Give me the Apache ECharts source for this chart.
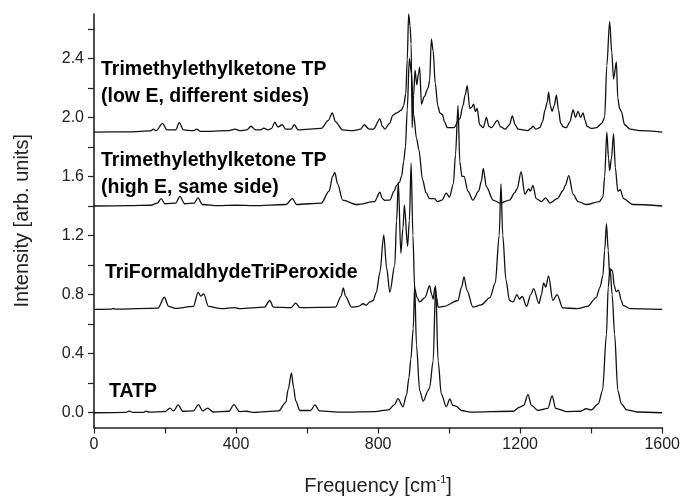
<!DOCTYPE html>
<html><head><meta charset="utf-8">
<script src="https://cdn.jsdelivr.net/npm/echarts@6/dist/echarts.min.js"></script>
<style>html,body{margin:0;padding:0;background:#fff}#c{width:683px;height:501px}</style>
</head><body><div id="c"></div>
<script>
// Tick values
var xTickLabels = [0, 400, 800, 1200, 1600];
var xTickMarks = [0, 200, 400, 600, 800, 1000, 1200, 1400, 1600];
var yTickLabels = [0.0, 0.4, 0.8, 1.2, 1.6, 2.0, 2.4];
var yTickMarks = [0.0, 0.2, 0.4, 0.6, 0.8, 1.0, 1.2, 1.4, 1.6, 1.8, 2.0, 2.2, 2.4, 2.6];

// Spectrum labels
var labelLowE = ["Trimethylethylketone TP", "(low E, different sides)"];
var labelHighE = ["Trimethylethylketone TP", "(high E, same side)"];
var labelTriForm = "TriFormaldhydeTriPeroxide";
var labelTATP = "TATP";

// Spectra: [frequency cm-1, intensity (offset included)]
var tatp = [[0,0],[90,0.002],[99,0.011],[110,0.002],[140,0.003],[146,0.011],[155,0.004],[200,0.008],[214,0.031],[224,0.012],[237,0.053],[250,0.01],[280,0.012],[294,0.055],[306,0.012],[320,0.031],[335,0.005],[380,0.01],[394,0.055],[410,0.008],[430,0.01],[450,0.003],[520,0.012],[540,0.07],[547,0.16],[556,0.27],[562,0.17],[568,0.08],[580,0.015],[610,0.015],[622,0.053],[635,0.012],[700,0.004],[790,0.008],[830,0.02],[846,0.055],[856,0.095],[870,0.04],[880,0.12],[887,0.24],[892,0.36],[899,0.57],[903,0.86],[908,0.46],[917,0.15],[927,0.078],[941,0.15],[945,0.17],[955,0.35],[962,0.86],[969,0.35],[978,0.127],[992,0.04],[1002,0.093],[1010,0.05],[1019,0.045],[1035,0.015],[1060,0.004],[1180,0.01],[1199,0.038],[1210,0.05],[1222,0.122],[1232,0.05],[1250,0.015],[1278,0.03],[1290,0.115],[1300,0.03],[1330,0.008],[1370,0.01],[1386,0.027],[1400,0.02],[1420,0.06],[1432,0.15],[1443,0.53],[1448,0.85],[1453,0.98],[1459,0.8],[1466,0.53],[1475,0.15],[1485,0.06],[1500,0.02],[1530,0.005],[1600,0]];

var triForm = [[0,0.7],[50,0.702],[54,0.706],[60,0.701],[180,0.708],[198,0.782],[210,0.72],[230,0.706],[280,0.72],[293,0.815],[301,0.79],[309,0.805],[322,0.72],[360,0.705],[395,0.712],[410,0.705],[480,0.715],[495,0.76],[505,0.715],[555,0.712],[568,0.742],[580,0.712],[680,0.715],[696,0.79],[702,0.845],[708,0.79],[725,0.715],[745,0.72],[758,0.738],[766,0.728],[777,0.75],[786,0.76],[795,0.815],[805,0.95],[816,1.204],[824,0.98],[833,0.815],[847,1.0],[852,1.3],[857,1.56],[864,1.08],[870,1.25],[874,1.405],[883,1.127],[888,1.3],[893,1.69],[898,1.2],[903,0.84],[910,0.78],[917,0.75],[932,0.78],[945,0.86],[951,0.8],[955,0.77],[960,0.85],[965,0.78],[969,0.715],[985,0.72],[1025,0.76],[1035,0.85],[1042,0.92],[1050,0.83],[1067,0.715],[1090,0.73],[1115,0.78],[1130,0.88],[1141,1.2],[1146,1.55],[1151,1.2],[1160,0.9],[1170,0.76],[1180,0.75],[1191,0.80],[1198,0.77],[1206,0.787],[1218,0.72],[1230,0.8],[1238,0.84],[1253,0.74],[1260,0.8],[1266,0.88],[1272,0.85],[1280,0.927],[1292,0.76],[1304,0.80],[1320,0.71],[1360,0.705],[1390,0.72],[1414,0.78],[1425,0.85],[1433,0.93],[1438,1.1],[1443,1.28],[1448,1.1],[1452,0.93],[1456,0.97],[1460,0.96],[1465,0.86],[1470,0.82],[1477,0.83],[1485,0.76],[1490,0.727],[1510,0.705],[1600,0.7]];

var highE = [[0,1.4],[100,1.402],[160,1.405],[178,1.42],[189,1.45],[200,1.415],[230,1.42],[242,1.465],[255,1.415],[282,1.42],[293,1.455],[305,1.41],[350,1.402],[400,1.405],[450,1.402],[540,1.41],[559,1.45],[570,1.41],[640,1.42],[662,1.5],[672,1.6],[678,1.627],[686,1.55],[700,1.44],[740,1.41],[790,1.43],[805,1.493],[812,1.45],[819,1.438],[833,1.44],[845,1.5],[852,1.54],[860,1.56],[866,1.6],[872,1.7],[877,1.8],[882,2.05],[888,2.4],[894,2.3],[900,2.02],[908,1.86],[915,1.78],[925,1.58],[935,1.49],[945,1.45],[952,1.45],[959,1.45],[967,1.43],[980,1.44],[992,1.487],[1001,1.46],[1012,1.55],[1018,1.75],[1025,2.08],[1030,1.7],[1036,1.6],[1042,1.6],[1053,1.5],[1067,1.44],[1083,1.5],[1091,1.57],[1096,1.655],[1105,1.53],[1124,1.44],[1143,1.42],[1170,1.44],[1185,1.49],[1191,1.515],[1203,1.633],[1213,1.48],[1224,1.515],[1229,1.5],[1236,1.54],[1245,1.45],[1260,1.43],[1272,1.455],[1284,1.42],[1305,1.45],[1321,1.505],[1327,1.54],[1337,1.605],[1349,1.48],[1363,1.43],[1386,1.41],[1423,1.43],[1433,1.46],[1438,1.6],[1444,1.90],[1449,1.72],[1452,1.64],[1457,1.72],[1463,1.89],[1468,1.66],[1475,1.50],[1482,1.51],[1491,1.45],[1517,1.41],[1600,1.4]];

var lowE = [[0,1.9],[100,1.902],[160,1.908],[167,1.92],[175,1.91],[193,1.96],[205,1.915],[230,1.915],[240,1.965],[252,1.915],[280,1.91],[289,1.92],[300,1.905],[380,1.91],[397,1.92],[410,1.91],[430,1.915],[442,1.94],[455,1.915],[470,1.915],[478,1.927],[490,1.915],[500,1.925],[509,1.967],[518,1.935],[530,1.95],[540,1.92],[555,1.92],[564,1.95],[575,1.915],[640,1.925],[660,1.98],[671,2.03],[680,1.97],[700,1.915],[730,1.91],[739,1.915],[750,1.92],[761,1.95],[775,1.92],[787,1.92],[805,1.99],[812,1.94],[819,1.92],[832,1.96],[842,2.015],[852,2.03],[866,2.05],[872,2.08],[878,2.16],[882,2.39],[886,2.70],[890,2.62],[893,2.5],[896,1.93],[900,2.15],[904,2.32],[909,2.22],[914,2.3],[917,2.34],[922,2.09],[930,2.14],[941,2.2],[945,2.25],[950,2.53],[955,2.45],[961,2.23],[968,2.08],[974,2.03],[981,2.02],[987,1.97],[995,1.93],[1013,1.93],[1030,1.99],[1039,2.08],[1045,2.15],[1051,2.215],[1058,2.06],[1064,2.07],[1069,2.09],[1074,2.04],[1079,2.06],[1086,1.95],[1096,1.93],[1105,2.0],[1112,1.94],[1119,1.93],[1136,1.98],[1145,1.935],[1158,1.92],[1170,1.95],[1178,2.01],[1186,1.95],[1194,1.92],[1222,1.91],[1230,1.925],[1236,1.94],[1244,1.92],[1255,1.93],[1263,1.97],[1270,2.05],[1276,2.1],[1280,2.17],[1285,2.08],[1290,2.04],[1296,2.08],[1302,2.15],[1308,2.05],[1314,1.96],[1322,1.935],[1330,1.93],[1340,1.97],[1349,2.05],[1356,2.0],[1363,2.04],[1370,2.0],[1377,2.03],[1383,1.98],[1388,1.94],[1400,1.925],[1415,1.93],[1430,1.96],[1438,2.0],[1444,2.35],[1452,2.65],[1458,2.44],[1463,2.26],[1471,2.375],[1475,2.13],[1480,2.06],[1485,2.04],[1494,1.95],[1510,1.92],[1536,1.91],[1600,1.9]];

var chart = echarts.init(document.getElementById('c'), null, {renderer: 'canvas'});
var FONT = '"Liberation Sans", Arial, Helvetica, sans-serif';
function mkSeries(name, data) {
  return {
    name: name, type: 'line', data: data, showSymbol: false, symbol: 'none',
    smooth: 0.3, smoothMonotone: 'x', clip: true,
    lineStyle: {color: '#111', width: 1.3}, silent: true
  };
}
var labelStyle = {font: 'bold 19.5px ' + FONT, fill: '#000', verticalAlign: 'middle', align: 'left'};
chart.setOption({
  animation: false,
  backgroundColor: '#fff',
  grid: {left: 94, right: 20, top: 14, bottom: 67},
  xAxis: {
    type: 'value', min: 0, max: 1600,
    name: 'Frequency [cm{sup|-1}]', nameLocation: 'middle', nameGap: 47,
    nameTextStyle: {fontFamily: FONT, fontSize: 20, color: '#222',
      rich: {sup: {fontFamily: FONT, fontSize: 11, color: '#222', verticalAlign: 'top', padding: [0, 0, 12, 0]}}},
    axisLine: {show: true, onZero: false, lineStyle: {color: '#222', width: 1.6}},
    axisTick: {show: true, inside: false, length: 6, customValues: xTickMarks, lineStyle: {color: '#222', width: 1.2}},
    axisLabel: {customValues: xTickLabels, fontFamily: FONT, fontSize: 16, color: '#222', margin: 9,
      formatter: function (v) { return String(Math.round(v)); }},
    splitLine: {show: false}
  },
  yAxis: {
    type: 'value', min: -0.1, max: 2.7,
    name: 'Intensity [arb. units]', nameLocation: 'middle', nameGap: 62,
    nameTextStyle: {fontFamily: FONT, fontSize: 20, color: '#222'},
    axisLine: {show: true, onZero: false, lineStyle: {color: '#222', width: 1.6}},
    axisTick: {show: true, inside: false, length: 6, customValues: yTickMarks, lineStyle: {color: '#222', width: 1.2}},
    axisLabel: {customValues: yTickLabels, fontFamily: FONT, fontSize: 16, color: '#222', margin: 10,
      formatter: function (v) { return v.toFixed(1); }},
    splitLine: {show: false}
  },
  graphic: [
    {type: 'text', x: 101, y: 70, style: Object.assign({text: labelLowE[0]}, labelStyle)},
    {type: 'text', x: 101, y: 97, style: Object.assign({text: labelLowE[1]}, labelStyle)},
    {type: 'text', x: 101, y: 161, style: Object.assign({text: labelHighE[0]}, labelStyle)},
    {type: 'text', x: 101, y: 188, style: Object.assign({text: labelHighE[1]}, labelStyle)},
    {type: 'text', x: 105, y: 273, style: Object.assign({text: labelTriForm}, labelStyle)},
    {type: 'text', x: 109, y: 392, style: Object.assign({text: labelTATP}, labelStyle)}
  ],
  series: [
    mkSeries('TATP', tatp),
    mkSeries('TriFormaldhydeTriPeroxide', triForm),
    mkSeries('Trimethylethylketone TP (high E)', highE),
    mkSeries('Trimethylethylketone TP (low E)', lowE)
  ]
});
</script></body></html>
